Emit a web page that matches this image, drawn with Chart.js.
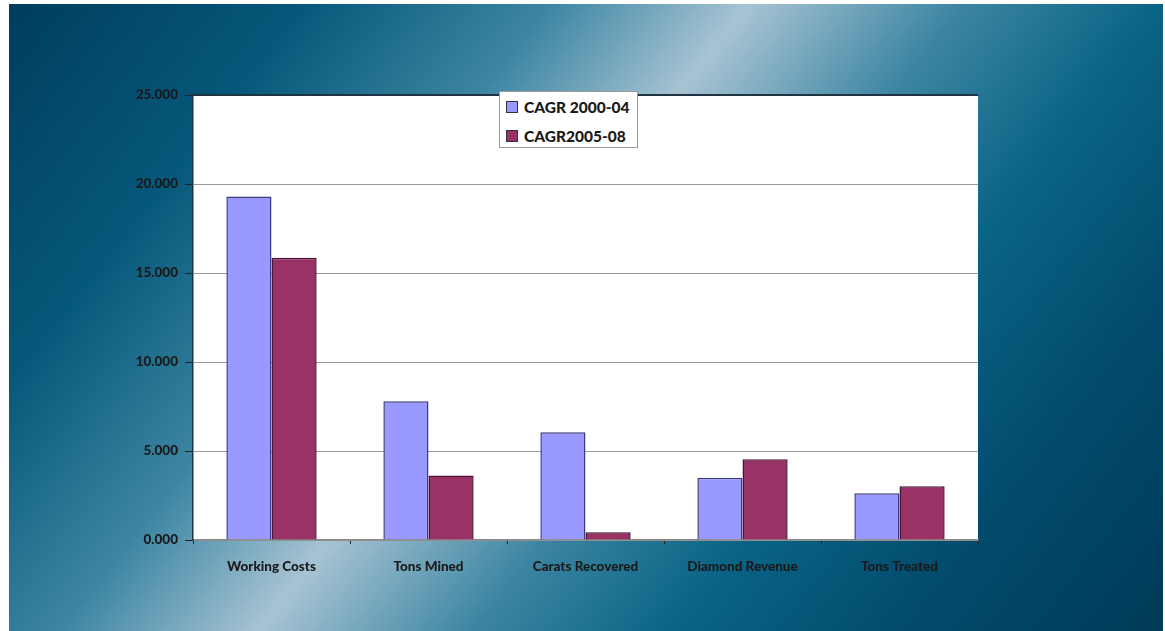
<!DOCTYPE html>
<html>
<head>
<meta charset="utf-8">
<script src="https://cdn.jsdelivr.net/npm/chart.js@4"></script>
<style>
	html, body { margin: 0; padding: 0; background: #fff; }
	#fundo {
		position: absolute; left: 9px; top: 4px; width: 1154px; height: 627px;
		background: linear-gradient(128deg, #003d5f 0%, #06587a 18%, #3d86a3 33%, #a7c3d3 45%, #3c85a2 58%, #0a6485 70%, #024b6d 84%, #003a58 100%);
	}
	#grafico { position: absolute; left: 0; top: 0; }
	#legenda {
		position: absolute; left: 490px; top: 87px; width: 139px; height: 57px;
		background: #fff; border: 1px solid #999; box-sizing: border-box;
		font-family: Lato, "Open Sans", sans-serif; font-weight: 900; font-size: 15.5px; color: #1a1a1a;
	}
	#legenda div { position: absolute; left: 6px; white-space: nowrap; }
	#legenda span.cor {
		display: inline-block; width: 10px; height: 10px; margin-right: 6px;
		border: 1px solid #333; vertical-align: 0px;
	}
</style>
</head>
<body>
<div id="fundo">
	<canvas id="grafico" width="1154" height="627"></canvas>
	<div id="legenda"></div>
</div>
<script>
var categorias = ['Working Costs', 'Tons Mined', 'Carats Recovered', 'Diamond Revenue', 'Tons Treated'];
var cagr2000a04 = [19.30, 7.80, 6.05, 3.50, 2.62];
var cagr2005a08 = [15.85, 3.63, 0.43, 4.53, 3.02];
var ticksY = [0, 5, 10, 15, 20, 25];

var fundoBranco = {
	id: 'fundoBranco',
	beforeDraw: function(chart) {
		var a = chart.chartArea, ctx = chart.ctx;
		ctx.save();
		ctx.fillStyle = '#fff';
		ctx.fillRect(a.left, a.top, a.right - a.left, a.bottom - a.top);
		ctx.restore();
	},
	afterDraw: function(chart) {
		var a = chart.chartArea, ctx = chart.ctx;
		ctx.save();
		ctx.strokeStyle = '#1f3440';
		ctx.lineWidth = 2;
		ctx.beginPath();
		ctx.moveTo(a.left, a.top);
		ctx.lineTo(a.right, a.top);
		ctx.stroke();
		ctx.restore();
	}
};

var fonte = { family: 'Lato, "Open Sans", sans-serif', weight: '900', size: 13.5 };

var grafico = new Chart(document.getElementById('grafico').getContext('2d'), {
	type: 'bar',
	data: {
		labels: categorias,
		datasets: [{
			label: 'CAGR 2000-04',
			backgroundColor: '#9999ff',
			borderColor: '#3c3c7a',
			borderWidth: 1.5,
			borderSkipped: 'start',
			data: cagr2000a04
		}, {
			label: 'CAGR2005-08',
			backgroundColor: '#993366',
			borderColor: '#4a1232',
			borderWidth: 1.5,
			borderSkipped: 'start',
			data: cagr2005a08
		}]
	},
	options: {
		responsive: false,
		animation: false,
		layout: { padding: { left: 0, top: 91, right: 185, bottom: 0 } },
		datasets: { bar: { categoryPercentage: 0.575, barPercentage: 1 } },
		plugins: { legend: { display: false }, tooltip: { enabled: false } },
		scales: {
			x: {
				afterFit: function(eixo) { eixo.height = 91; },
				grid: { offset: true, drawOnChartArea: false, tickLength: 4, tickColor: '#222', lineWidth: 1 },
				border: { color: '#888', width: 1.5 },
				ticks: { color: '#1a1a1a', font: fonte, padding: 15, maxRotation: 0 }
			},
			y: {
				min: 0,
				max: 25,
				afterFit: function(eixo) { eixo.width = 184; },
				afterBuildTicks: function(eixo) {
					eixo.ticks = ticksY.map(function(v) { return { value: v }; });
				},
				grid: { color: '#999', lineWidth: 1, tickLength: 8, tickColor: '#222' },
				border: { color: '#1f3440', width: 1.5 },
				ticks: {
					color: '#1a1a1a', font: fonte, padding: 7,
					callback: function(v) { return v.toFixed(3); }
				}
			}
		}
	},
	plugins: [fundoBranco]
});

var legenda = document.getElementById('legenda');
grafico.data.datasets.forEach(function(ds, i) {
	var item = document.createElement('div');
	item.style.top = (i === 0 ? 6 : 35) + 'px';
	item.innerHTML = '<span class="cor" style="background:' + ds.backgroundColor + '"></span>' + ds.label;
	legenda.appendChild(item);
});
</script>
</body>
</html>
